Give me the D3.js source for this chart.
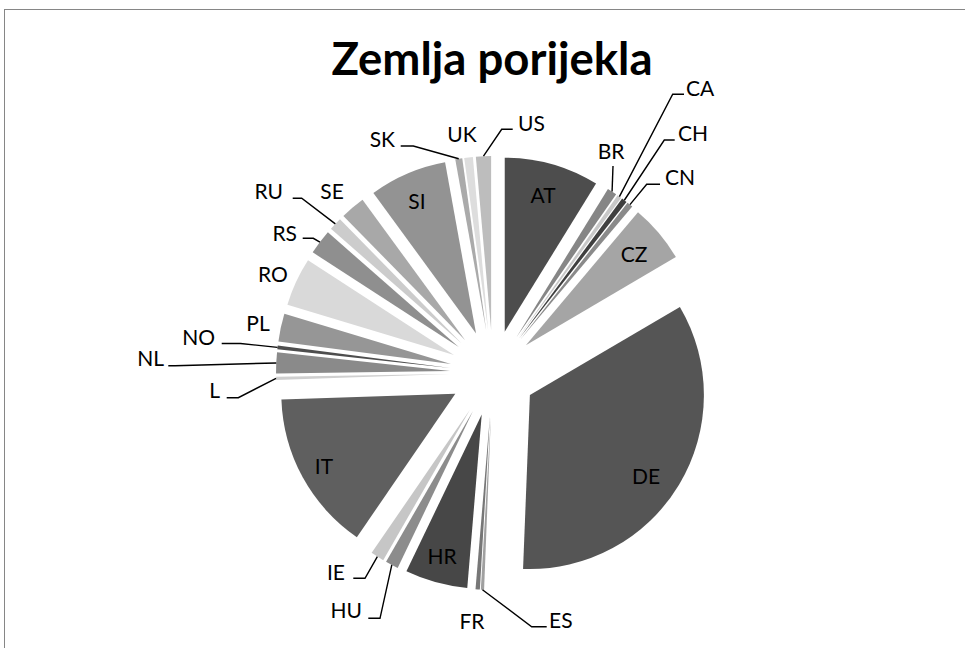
<!DOCTYPE html>
<html>
<head>
<meta charset="utf-8">
<script src="https://cdn.jsdelivr.net/npm/d3@7"></script>
<style>
  body { margin: 0; background: #fff; }
  svg { display: block; font-family: Lato, "Open Sans", sans-serif; }
</style>
</head>
<body>
<main></main>
<script>
// countries, clockwise from 12 o'clock
const countries = ["AT", "BR", "CA", "CH", "CN", "CZ", "DE", "ES", "FR", "HR", "HU", "IE", "IT",
    "L", "NL", "NO", "PL", "RO", "RS", "RU", "SE", "SI", "SK", "UK", "US"];

// share of each country, %
const shares = [8.8, 0.9, 0.4, 0.5, 0.55, 5.4, 34.1, 0.3, 0.4, 5.8, 1.2, 1.25, 14.9,
    0.3, 1.95, 0.35, 2.6, 4.5, 2.3, 1.2, 2.3, 7.2, 0.65, 0.8, 1.4];

// grey fill of every slice
const fills = ["#4d4d4d", "#868686", "#c8c8c8", "#3f3f3f", "#8a8a8a", "#a5a5a5", "#555555", "#a0a0a0", "#777777",
    "#474747", "#8c8c8c", "#c6c6c6", "#5f5f5f", "#cfcfcf", "#8a8a8a", "#4e4e4e", "#969696", "#d9d9d9",
    "#8f8f8f", "#cccccc", "#a8a8a8", "#939393", "#aaaaaa", "#dddddd", "#bdbdbd"];

// label placement: x, baseline y, anchor
const labelPos = {
    AT: [543, 203, "middle"], BR: [611, 159, "middle"], CA: [686, 96, "start"], CH: [678, 141, "start"],
    CN: [665, 185, "start"], CZ: [634, 262, "middle"], DE: [646, 484, "middle"], ES: [549, 628, "start"],
    FR: [472, 629, "middle"], HR: [442, 564, "middle"], HU: [362, 618, "end"], IE: [345, 580, "end"],
    IT: [324, 474, "middle"], L: [220, 398, "end"], NL: [164, 366, "end"], NO: [215, 345, "end"],
    PL: [258, 331, "middle"], RO: [273, 282, "middle"], RS: [297, 241, "end"], RU: [283, 199, "end"],
    SE: [332, 199, "middle"], SI: [417, 209, "middle"], SK: [395, 147, "end"], UK: [462, 142, "middle"],
    US: [518, 131, "start"]
};

// leader lines: points after the slice edge
const leaders = {
    BR: [[613, 166]],
    CA: [[672.7, 94.3], [684, 94.3]],
    CH: [[664.3, 140], [674.7, 140]],
    CN: [[646.7, 184.3], [660, 184.3]],
    ES: [[531.7, 626.7], [546.7, 626.7]],
    HU: [[380, 618.3], [368.3, 618.3]],
    IE: [[365, 578.3], [353.3, 578.3]],
    L: [[238.3, 397.7], [226.7, 397.7]],
    NL: [[175, 365.7], [168.3, 365.7]],
    NO: [[240.5, 343.5], [221.7, 343.5]],
    RS: [[313.3, 238.3], [302.7, 238.3]],
    RU: [[301.7, 198.3], [292.7, 198.3]],
    SK: [[413.3, 146], [400.7, 146]],
    US: [[501.7, 129.3], [512.7, 129.3]]
};

function drawPie() {
    const width = 965;
    const height = 648;
    const cx = 493, cy = 373;
    const radius = 174;
    const explode = 43;

    const data = countries.map((c, i) => ({ name: c, value: shares[i], fill: fills[i] }));

    const pie = d3.pie().sort(null).value(d => d.value);
    const arc = d3.arc().innerRadius(0).outerRadius(radius);
    const arcs = pie(data);

    // point at distance r along the bisector of a slice
    function along(d, r) {
        const a = (d.startAngle + d.endAngle) / 2;
        return [r * Math.sin(a), -r * Math.cos(a)];
    }

    const svg = d3.select("main")
        .append("svg")
        .attr("width", width)
        .attr("height", height);

    // chart frame
    svg.append("rect")
        .attr("x", 4.5)
        .attr("y", 9.5)
        .attr("width", width + 20)
        .attr("height", height + 20)
        .attr("fill", "#fff")
        .attr("stroke", "#868686")
        .attr("stroke-width", 1);

    // title
    svg.append("text")
        .attr("x", 492)
        .attr("y", 75)
        .attr("text-anchor", "middle")
        .attr("font-size", 45.5)
        .attr("font-weight", "bold")
        .attr("fill", "#000")
        .text("Zemlja porijekla");

    // exploded slices
    const pieGroup = svg.append("g")
        .attr("transform", "translate(" + cx + "," + cy + ")");

    pieGroup.selectAll("path")
        .data(arcs)
        .join("path")
        .attr("transform", d => "translate(" + along(d, explode) + ")")
        .attr("d", arc)
        .attr("fill", d => d.data.fill);

    // leader lines
    const line = d3.line();
    svg.append("g")
        .selectAll("path")
        .data(arcs.filter(d => leaders[d.data.name]))
        .join("path")
        .attr("d", d => {
            const o = along(d, explode), e = along(d, radius);
            const start = [cx + o[0] + e[0], cy + o[1] + e[1]];
            return line([start].concat(leaders[d.data.name]));
        })
        .attr("fill", "none")
        .attr("stroke", "#000")
        .attr("stroke-width", 1.4);

    // labels
    svg.append("g")
        .selectAll("text")
        .data(arcs)
        .join("text")
        .attr("x", d => labelPos[d.data.name][0])
        .attr("y", d => labelPos[d.data.name][1])
        .attr("text-anchor", d => labelPos[d.data.name][2])
        .attr("font-size", 21)
        .attr("fill", "#000")
        .text(d => d.data.name);
}

drawPie();
</script>
</body>
</html>
